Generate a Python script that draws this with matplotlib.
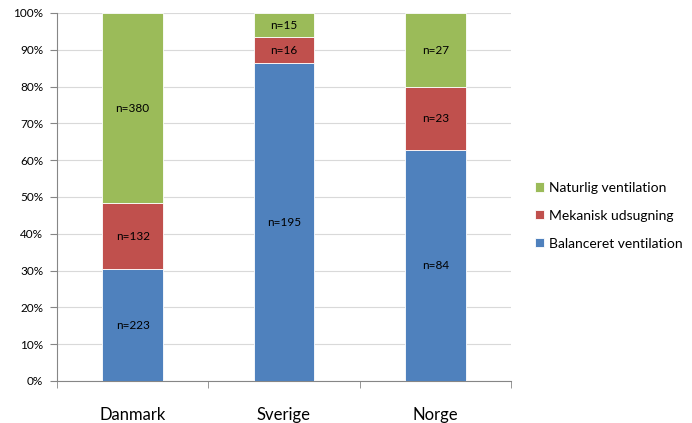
import numpy as np
import matplotlib.pyplot as plt
from matplotlib.ticker import FixedLocator, PercentFormatter

countries = ['Danmark', 'Sverige', 'Norge']
balanceret = [223, 195, 84]
mekanisk = [132, 16, 23]
naturlig = [380, 15, 27]

series = [
    ('Balanceret ventilation', balanceret, '#4F81BD'),
    ('Mekanisk udsugning', mekanisk, '#C0504D'),
    ('Naturlig ventilation', naturlig, '#9BBB59'),
]

plt.rcParams['font.family'] = ['Lato', 'DejaVu Sans']

totals = np.array(balanceret) + np.array(mekanisk) + np.array(naturlig)

fig = plt.figure(figsize=(6.92, 4.23), dpi=100)
ax = fig.add_axes([0.0824, 0.0993, 0.656, 0.870])

x = np.arange(len(countries))
bottom = np.zeros(len(countries))
handles = []
for name, counts, color in series:
    share = np.array(counts) / totals * 100
    bars = ax.bar(x, share, 0.4, bottom=bottom, color=color,
                  edgecolor='white', linewidth=0.6, label=name, zorder=3)
    for xi, b, s, n in zip(x, bottom, share, counts):
        ax.text(xi, b + s / 2, f'n={n}', ha='center', va='center',
                fontsize=8.5, color='black', zorder=4)
    handles.append(bars)
    bottom += share

ax.set_xlim(-0.5, len(countries) - 0.5)
ax.set_ylim(0, 100)
ax.set_yticks(np.arange(0, 101, 10))
ax.yaxis.set_major_formatter(PercentFormatter(decimals=0))
ax.set_xticks(x)
ax.set_xticklabels(countries, fontsize=12)
ax.xaxis.set_minor_locator(FixedLocator(np.arange(-0.5, len(countries), 1.0)))
ax.tick_params(axis='x', which='major', length=0, pad=19)
ax.tick_params(axis='x', which='minor', length=5, color='#868686', direction='out')
ax.tick_params(axis='y', length=5, color='#868686', labelsize=8.5, pad=5)

ax.grid(axis='y', color='#D9D9D9', linewidth=0.8, zorder=0)
for side in ['top', 'right']:
    ax.spines[side].set_visible(False)
for side in ['left', 'bottom']:
    ax.spines[side].set_color('#868686')
    ax.spines[side].set_linewidth(0.8)

leg = fig.legend(handles[::-1], [s[0] for s in series][::-1],
                 loc='center left', bbox_to_anchor=(0.755, 0.49),
                 frameon=False, fontsize=10, handlelength=0.65, handleheight=0.65,
                 handletextpad=0.35, labelspacing=1.15)

fig.savefig('out.png', dpi=100)
